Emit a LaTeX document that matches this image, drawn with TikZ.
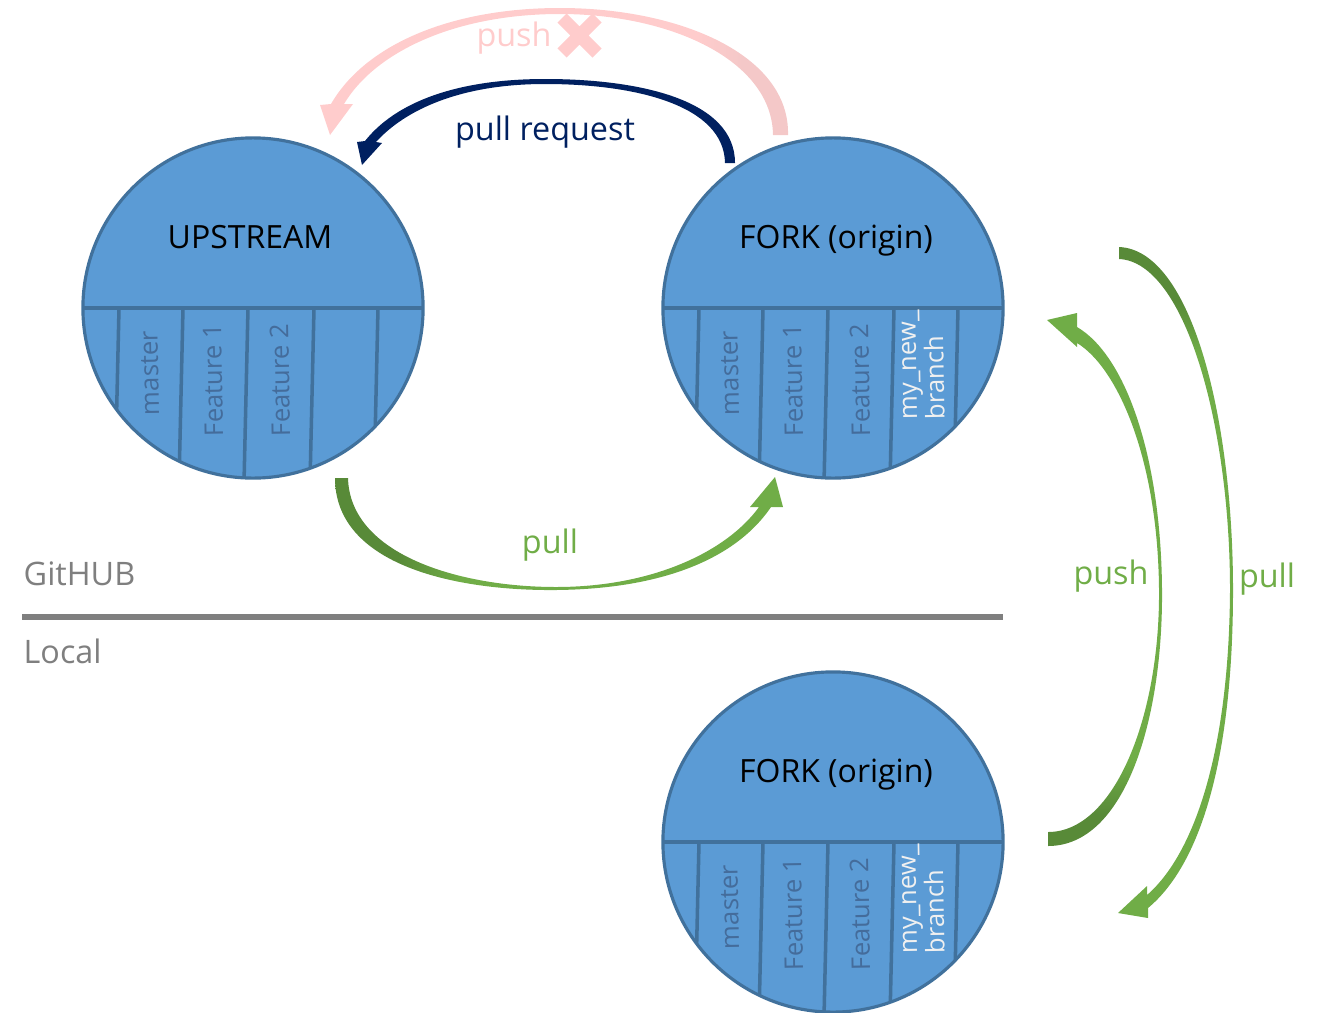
\documentclass[tikz,border=0pt]{standalone}
\usepackage{fontspec}
\setmainfont{Open Sans}
\usetikzlibrary{positioning}
\definecolor{rblue}{RGB}{91,155,213}
\definecolor{rline}{RGB}{65,113,156}
\definecolor{rtext}{RGB}{68,108,155}
\definecolor{rnavy}{RGB}{0,32,96}
\definecolor{rgreen}{RGB}{112,173,71}
\definecolor{rdgreen}{RGB}{88,138,56}
\definecolor{rpink}{RGB}{255,204,204}
\definecolor{rdpink}{RGB}{244,200,200}
\definecolor{rgray}{RGB}{127,127,127}
% darker tails of the curved arrows
\pgfdeclarehorizontalshading{tailleft}{100bp}{color(0bp)=(rdgreen); color(32bp)=(rdgreen); color(39bp)=(rgreen); color(100bp)=(rgreen)}
\pgfdeclarehorizontalshading{tailright}{100bp}{color(0bp)=(rpink); color(65bp)=(rpink); color(70bp)=(rdpink); color(100bp)=(rdpink)}
\pgfdeclareverticalshading{tailbottom}{100bp}{color(0bp)=(rdgreen); color(28bp)=(rdgreen); color(33bp)=(rgreen); color(100bp)=(rgreen)}
\pgfdeclareverticalshading{tailtop}{100bp}{color(0bp)=(rgreen); color(67bp)=(rgreen); color(71bp)=(rdgreen); color(100bp)=(rdgreen)}

\begin{document}
\begin{tikzpicture}[x=0.01cm,y=-0.01cm,
  repo/.style={circle,fill=rblue,draw=rline,line width=0.9pt,minimum size=3.4cm,inner sep=0pt},
  wall/.style={draw=rline,line width=1pt},
  reponame/.style={font=\fontsize{9.1}{11}\selectfont,anchor=base},
  branch/.style={rotate=91,text=rtext,font=\fontsize{7.3}{7.8}\selectfont,inner sep=0pt},
  mine/.style={branch,text=white!94!black,align=left,anchor=west},
  lbl/.style={font=\fontsize{9.2}{11}\selectfont,anchor=base}]
\useasboundingbox (0,0) rectangle (1334,1012);

% the three repositories
\node[repo] (up)    at (253,308) {};
\node[repo] (fork)  at (833,308) {};
\node[repo] (local) at (833,842) {};

\foreach \r in {up,fork,local}{
  \begin{scope}
    \clip (\r) circle[radius=1.7cm];
    \draw[wall] ([xshift=-1.8cm]\r.center) -- ([xshift=1.8cm]\r.center);
    \foreach \dx in {-134,-70,-5,61,125}
      \draw[wall] ([xshift=\dx*0.01cm]\r.center) -- ++(-4,175);
  \end{scope}
  \node[branch] at ([xshift=-1.03cm,yshift=-0.65cm]\r.center) {master};
  \node[branch] at ([xshift=-0.40cm,yshift=-0.72cm]\r.center) {Feature 1};
  \node[branch] at ([xshift=0.27cm,yshift=-0.72cm]\r.center) {Feature 2};
}
\node[mine] at ([xshift=0.91cm,yshift=-1.12cm]fork.center) {my\_new\_\\branch};
\node[mine] at ([xshift=0.91cm,yshift=-1.12cm]local.center) {my\_new\_\\branch};

\node[reponame] (upname)    at (250,248) {UPSTREAM};
\node[reponame] (forkname)  at (836,248) {FORK (origin)};
\node[reponame] (localname) at (836,782) {FORK (origin)};

% GitHUB / Local
\node[lbl,text=rgray,anchor=base west,inner sep=0pt] (hub) at (23,585) {GitHUB};
\node[lbl,text=rgray,anchor=base west,inner sep=0pt] (loc) at (23,663) {Local};
\draw[rgray,line width=1.7pt] (22,617) -- (1003,617);

% arrow tips
\coordinate (pushTo) at (330,135);
\coordinate (prTo)   at (362,165);
\coordinate (pullTo) at (775,477);
\coordinate (upTo)   at (1047,320);
\coordinate (downTo) at (1118,913);

% push (not allowed)
\shade[shading=tailright] (788,135) .. controls (790,55) and (680,8) .. (560,8)
  .. controls (450,8) and (365,45) .. (331,104) -- (320,105) -- (pushTo) -- (353,104) -- (344,104)
  .. controls (375,52) and (455,14) .. (560,14) .. controls (670,14) and (772,60) .. (773,135) -- cycle;
\node[lbl,text=rpink] (nopush) at (514,47) {push};
\draw[rpink,line width=3.7pt] (562,18) -- (597,53) (597,18) -- (562,53);

% pull request
\fill[rnavy] (735,163) .. controls (735,100) and (640,79) .. (545,79)
  .. controls (455,79) and (395,103) .. (365,141) -- (357,142) -- (prTo) -- (382,143) -- (376,142)
  .. controls (405,110) and (460,84) .. (545,84) .. controls (635,84) and (724,105) .. (725,163) -- cycle;
\node[lbl,text=rnavy] (pr) at (545,140) {pull request};

% pull upstream -> fork
\shade[shading=tailleft] (335,478) .. controls (335,565) and (455,591) .. (556,590)
  .. controls (660,589) and (735,560) .. (771,507) -- (783,507) -- (pullTo) -- (750,507) -- (759,507)
  .. controls (728,550) and (655,587) .. (556,587) .. controls (460,587) and (350,555) .. (348,478) -- cycle;
\node[lbl,text=rgreen] (pull) at (550,553) {pull};

% push local -> fork
\shade[shading=tailbottom] (1048,846) .. controls (1125,846) and (1163,720) .. (1162,590)
  .. controls (1161,455) and (1125,355) .. (1077,327) -- (1077,313) -- (upTo) -- (1077,347) -- (1077,343)
  .. controls (1118,368) and (1158,460) .. (1159,590) .. controls (1160,715) and (1115,832) .. (1048,832) -- cycle;
\node[lbl,text=rgreen] (push) at (1111,584) {push};

% pull fork -> local
\shade[shading=tailtop] (1119,247) .. controls (1192,250) and (1233,420) .. (1233,590)
  .. controls (1233,760) and (1200,865) .. (1148,908) -- (1148,918) -- (downTo) -- (1147,886) -- (1147,895)
  .. controls (1193,855) and (1229,755) .. (1230,590) .. controls (1230,425) and (1185,262) .. (1119,259) -- cycle;
\node[lbl,text=rgreen] (pullback) at (1267,587) {pull};
\end{tikzpicture}
\end{document}
